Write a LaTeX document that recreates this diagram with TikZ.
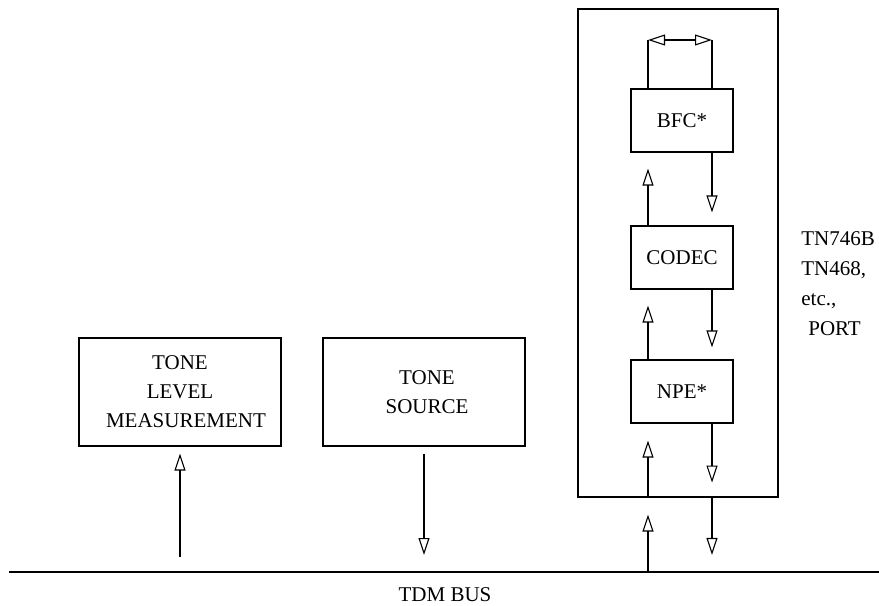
\documentclass[tikz,border=0pt]{standalone}
\usepackage{fontspec}
\setmainfont{Liberation Serif}
\usetikzlibrary{arrows.meta,calc}

\begin{document}
\begin{tikzpicture}[x=0.5bp, y=-0.5bp,
    >={Triangle[open, length=8.5bp, width=5.5bp]},
    box/.style={draw, line width=0.55bp, inner sep=0pt, align=center,
                font=\fontsize{10.5bp}{14.5bp}\selectfont},
    lbl/.style={inner sep=0pt, align=left,
                font=\fontsize{10.5bp}{15bp}\selectfont},
    sig/.style={->, line width=0.55bp},
    wire/.style={line width=0.55bp}]
    \useasboundingbox (0,0) rectangle (879,606);

    % Test units on the bus
    \node[box, minimum width=101bp, minimum height=54bp] (tlm) at (180,392)
      {TONE\\LEVEL\\\hspace{6bp}MEASUREMENT};
    \node[box, minimum width=101bp, minimum height=54bp] (tsrc) at (424,392)
      {\hspace{3bp}TONE\\\hspace{3bp}SOURCE};

    % Port board with its three stages
    \node[box, minimum width=100bp, minimum height=244bp] (port) at (678,253) {};
    \node[box, minimum width=51bp, minimum height=31.5bp] (bfc)   at (682,120.5) {BFC*};
    \node[box, minimum width=51bp, minimum height=31.5bp] (codec) at (682,257.5) {CODEC};
    \node[box, minimum width=51bp, minimum height=31.5bp] (npe)   at (682,391.5) {NPE*};
    \node[lbl, anchor=north west] (portlbl) at (801,231)
      {TN746B\\TN468,\\etc.,\\\hspace{3.5bp}PORT};

    % TDM bus
    \coordinate (busL) at (9,572);
    \coordinate (busR) at (879,572);
    \draw[wire] (busL) -- (busR);
    \node[lbl] (buslbl) at (445,595) {TDM BUS};

    % Lanes through the port (up on the left, down on the right)
    \coordinate (lane1) at (648,0);
    \coordinate (lane2) at (712,0);

    % Bus <-> test units
    \coordinate (tlmin)   at (180,557);
    \coordinate (tsrcout) at (424,555);
    \draw[sig, shorten >=3.5bp] (tlmin) -- (tlm.south);
    \draw[sig, shorten <=3.5bp] (tsrc.south) -- (tsrcout);

    % Bus <-> port
    \draw[sig, shorten >=8.5bp] (busL -| lane1) -- (port.south -| lane1);
    \draw[sig, shorten >=8.5bp] (port.south -| lane2) -- (busL -| lane2);
    % Port <-> NPE
    \draw[sig, shorten >=8.5bp] (port.south -| lane1) -- (npe.south -| lane1);
    \draw[sig, shorten >=7.5bp] (npe.south -| lane2) -- (port.south -| lane2);
    % NPE <-> CODEC
    \draw[sig, shorten >=8bp] (npe.north -| lane1) -- (codec.south -| lane1);
    \draw[sig, shorten >=6bp] (codec.south -| lane2) -- (npe.north -| lane2);
    % CODEC <-> BFC
    \draw[sig, shorten >=8bp] (codec.north -| lane1) -- (bfc.south -| lane1);
    \draw[sig, shorten >=6.5bp] (bfc.south -| lane2) -- (codec.north -| lane2);

    % Loop on top of BFC
    \coordinate (loopL) at (648,40);
    \coordinate (loopR) at (712,40);
    \draw[wire] (bfc.north -| loopL) -- (loopL);
    \draw[wire] (bfc.north -| loopR) -- (loopR);
    \draw[wire, <->] (loopL) -- (loopR);
\end{tikzpicture}
\end{document}
